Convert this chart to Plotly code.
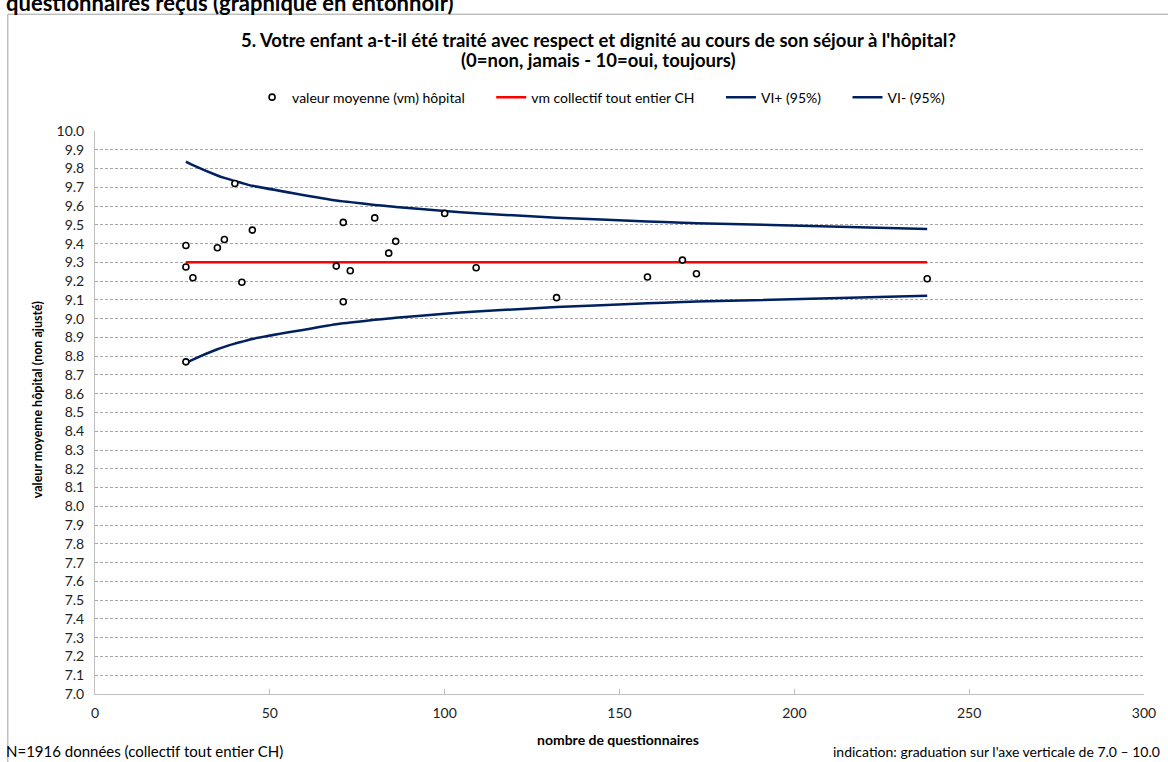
import plotly.graph_objects as go

# ---- data ----
n_hosp = [26, 26, 26, 28, 35, 37, 40, 42, 45, 69, 71, 71, 73, 80, 84, 86, 100, 109, 132, 158, 168, 172, 238]
mean_hosp = [9.39, 9.275, 8.77, 9.218, 9.378, 9.422, 9.72, 9.194, 9.472, 9.28, 9.513, 9.09, 9.255,
             9.537, 9.349, 9.412, 9.561, 9.271, 9.112, 9.222, 9.312, 9.239, 9.213]

funnel_n = [26, 28, 35, 37, 40, 42, 45, 69, 71, 73, 80, 84, 86, 100, 109, 132, 158, 168, 172, 238]
vi_plus = [9.837, 9.818, 9.763, 9.750, 9.733, 9.723, 9.708, 9.630, 9.625, 9.621, 9.606, 9.599, 9.595,
           9.574, 9.562, 9.538, 9.518, 9.511, 9.509, 9.478]
vi_minus = [8.763, 8.782, 8.837, 8.850, 8.867, 8.877, 8.892, 8.970, 8.975, 8.979, 8.994, 9.001, 9.005,
            9.026, 9.038, 9.062, 9.082, 9.089, 9.091, 9.122]
mean_all = [9.30] * len(funnel_n)

y_ticks = [round(7.0 + 0.1 * i, 1) for i in range(31)]
x_ticks = [0, 50, 100, 150, 200, 250, 300]

FONT = "Lato"
NAVY = "#002060"
PAD = "\u00a0" * 6

fig = go.Figure()
fig.add_trace(go.Scatter(
    x=funnel_n, y=mean_all, mode="lines", name="vm collectif tout entier CH" + PAD, legendrank=2,
    line=dict(color="#ff0000", width=2.5),
))
fig.add_trace(go.Scatter(
    x=funnel_n, y=vi_plus, mode="lines", name="VI+ (95%)" + PAD, legendrank=3,
    line=dict(color=NAVY, width=2.5, shape="spline", smoothing=0.6),
))
fig.add_trace(go.Scatter(
    x=funnel_n, y=vi_minus, mode="lines", name="VI- (95%)", legendrank=4,
    line=dict(color=NAVY, width=2.5, shape="spline", smoothing=0.6),
))
fig.add_trace(go.Scatter(
    x=n_hosp, y=mean_hosp, mode="markers", name="valeur moyenne (vm) hôpital" + PAD, legendrank=1,
    marker=dict(symbol="circle", size=6, color="white", line=dict(color="black", width=1.6)),
))

L, R, T, B = 95, 20, 130.5, 67.5
W, H = 1168, 762
pw, ph = W - L - R, H - T - B

def px2x(px):
    return (px - L) / pw

def py2y(py):
    return (H - B - py) / ph

fig.update_layout(
    width=W, height=H,
    margin=dict(l=L, r=R, t=T, b=B),
    paper_bgcolor="white", plot_bgcolor="white",
    font=dict(family=FONT, size=13, color="black"),
    showlegend=True,
    legend=dict(orientation="h", x=px2x(603), xanchor="center", y=py2y(97), yanchor="middle",
                font=dict(size=14, family=FONT), traceorder="normal",
                bgcolor="rgba(0,0,0,0)"),
    xaxis=dict(range=[0, 300], tickvals=x_ticks, ticktext=[str(v) for v in x_ticks],
               showgrid=False, zeroline=False, showline=True, linecolor="#bfbfbf", linewidth=1,
               ticks="inside", ticklen=5, tickcolor="#bfbfbf", ticklabelstandoff=6,
               tickfont=dict(size=14, family=FONT, color="#222")),
    yaxis=dict(range=[7.0, 10.0], tickvals=y_ticks, ticktext=[f"{v:.1f}" for v in y_ticks],
               showgrid=True, gridcolor="#a6a6a6", gridwidth=1, griddash="3px,2px",
               zeroline=False, showline=True, linecolor="#bfbfbf", linewidth=1,
               ticks="", ticklabelstandoff=7, tickfont=dict(size=14, family=FONT, color="#222")),
)

annotations = [
    dict(text="<b>questionnaires reçus (graphique en entonnoir)</b>", x=px2x(4), y=py2y(2),
         xanchor="left", yanchor="middle", font=dict(size=22, family=FONT)),
    dict(text="<b>5. Votre enfant a-t-il été traité avec respect et dignité au cours de son séjour à l'hôpital?</b>",
         x=px2x(600), y=py2y(39), xanchor="center", yanchor="middle", font=dict(size=18.5, family=FONT)),
    dict(text="<b>(0=non, jamais - 10=oui, toujours)</b>",
         x=px2x(600), y=py2y(59), xanchor="center", yanchor="middle", font=dict(size=18.5, family=FONT)),
    dict(text="<b>valeur moyenne hôpital (non ajusté)</b>", x=px2x(37), y=py2y(400), textangle=-90,
         xanchor="center", yanchor="middle", font=dict(size=12.5, family=FONT)),
    dict(text="<b>nombre de questionnaires</b>", x=px2x(620), y=py2y(740),
         xanchor="center", yanchor="middle", font=dict(size=14, family=FONT)),
    dict(text="N=1916 données (collectif tout entier CH)", x=px2x(4), y=py2y(752),
         xanchor="left", yanchor="middle", font=dict(size=15, family=FONT)),
    dict(text="indication: graduation sur l'axe verticale de 7.0 – 10.0", x=px2x(1166), y=py2y(752),
         xanchor="right", yanchor="middle", font=dict(size=14, family=FONT)),
]
for a in annotations:
    a.update(xref="paper", yref="paper", showarrow=False)
fig.update_layout(annotations=annotations)

fig.add_shape(type="rect", xref="paper", yref="paper",
              x0=px2x(7.5), x1=px2x(1200), y0=py2y(800), y1=py2y(13.5),
              line=dict(color="#a0a0a0", width=1), fillcolor="rgba(0,0,0,0)", layer="below")

fig.write_html("out.html", config={"displayModeBar": False},
               post_script="document.body.style.margin='0px';")
